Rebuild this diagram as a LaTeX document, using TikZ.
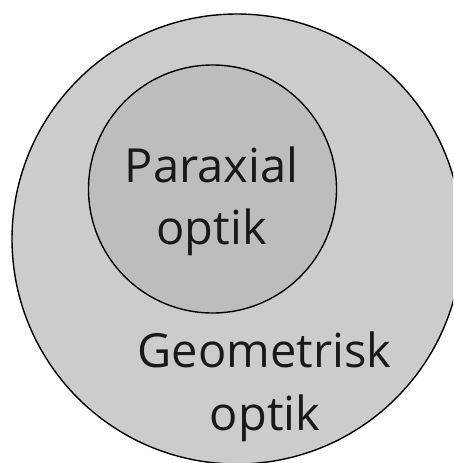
\documentclass[tikz,border=0pt]{standalone}
\usepackage{fontspec}
\setmainfont{Open Sans}
\begin{document}
\begin{tikzpicture}[x=1pt,y=-1pt,
  ring/.style={draw=black,line width=1.4pt},
  lbl/.style={anchor=base,inner sep=0pt,font=\fontsize{47}{56}\selectfont,text=black!90}]
\useasboundingbox (0,0) rectangle (453,463);
\begin{scope}
\clip (0,0) rectangle (453,463);
\draw[ring,fill=black!20] (237,239) circle[radius=225];
\draw[ring,fill=black!26] (212.5,189) circle[radius=124];
\end{scope}
\node[lbl] (p1) at (211.5,182) {Paraxial};
\node[lbl] (p2) at (211.5,244) {optik};
\node[lbl] (g1) at (264.5,367) {Geometrisk};
\node[lbl] (g2) at (265,430) {optik};
\end{tikzpicture}
\end{document}
